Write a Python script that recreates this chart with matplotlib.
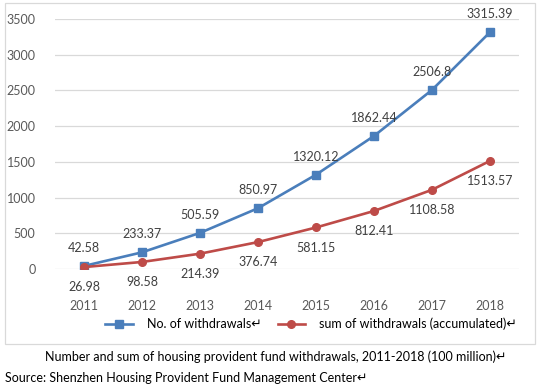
import matplotlib.pyplot as plt
from matplotlib.patches import Rectangle
from matplotlib.lines import Line2D

plt.rcParams['font.family'] = ['Lato', 'DejaVu Sans']

years = ['2011', '2012', '2013', '2014', '2015', '2016', '2017', '2018']
count_vals = [42.58, 233.37, 505.59, 850.97, 1320.12, 1862.44, 2506.8, 3315.39]
sum_vals = [26.98, 98.58, 214.39, 376.74, 581.15, 812.41, 1108.58, 1513.57]
count_labels = ['42.58', '233.37', '505.59', '850.97', '1320.12', '1862.44', '2506.8', '3315.39']
sum_labels = ['26.98', '98.58', '214.39', '376.74', '581.15', '812.41', '1108.58', '1513.57']

blue = '#4a7ebb'
red = '#be4b48'
grey = '#595959'

fig = plt.figure(figsize=(5.4, 3.87), dpi=100)
ax = fig.add_axes([55/540, 1 - 269/387, 464/540, 250/387])

x = list(range(len(years)))
ax.plot(x, count_vals, color=blue, lw=1.9, marker='s', ms=5.5, zorder=3)
ax.plot(x, sum_vals, color=red, lw=1.9, marker='o', ms=5.5, zorder=3)

# data labels
for i in x:
    ax.annotate(count_labels[i], (i, count_vals[i]), xytext=(0, 13), textcoords='offset points',
                ha='center', va='center', fontsize=9, color='#404040')
    ax.annotate(sum_labels[i], (i, sum_vals[i]), xytext=(0, -14.5), textcoords='offset points',
                ha='center', va='center', fontsize=9, color='#404040')

ax.set_xlim(-0.5, 7.5)
ax.set_ylim(0, 3500)
ax.set_yticks(range(0, 3501, 500))
ax.set_xticks(x)
ax.set_xticklabels(years)
ax.grid(axis='y', color='#d9d9d9', lw=0.9)
ax.set_axisbelow(True)
for s in ax.spines.values():
    s.set_visible(False)
ax.tick_params(length=0, labelsize=9, colors=grey)
ax.tick_params(axis='x', pad=22)
ax.tick_params(axis='y', pad=14)

# chart border
fig.patches.append(Rectangle((5/540, 1 - 344/387), 530/540, 341/387, transform=fig.transFigure,
                             fill=False, edgecolor='#d9d9d9', lw=0.9))

# legend
handles = [Line2D([], [], color=blue, lw=1.9, marker='s', ms=5.5),
           Line2D([], [], color=red, lw=1.9, marker='o', ms=5.5)]
fig.legend(handles, ['No. of withdrawals\u21b5', 'sum of withdrawals (accumulated)\u21b5'],
           loc='center', bbox_to_anchor=(311/540, 1 - 324/387), ncol=2, frameon=False,
           fontsize=9, handlelength=2.2, columnspacing=1.3, handletextpad=1.1)

fig.text(276/540, 1 - 357/387,
         'Number and sum of housing provident fund withdrawals, 2011-2018 (100 million)\u21b5',
         ha='center', va='center', fontsize=9)
fig.text(5/540, 1 - 378/387, 'Source: Shenzhen Housing Provident Fund Management Center\u21b5',
         ha='left', va='center', fontsize=9)

fig.savefig('out.png', dpi=100)
